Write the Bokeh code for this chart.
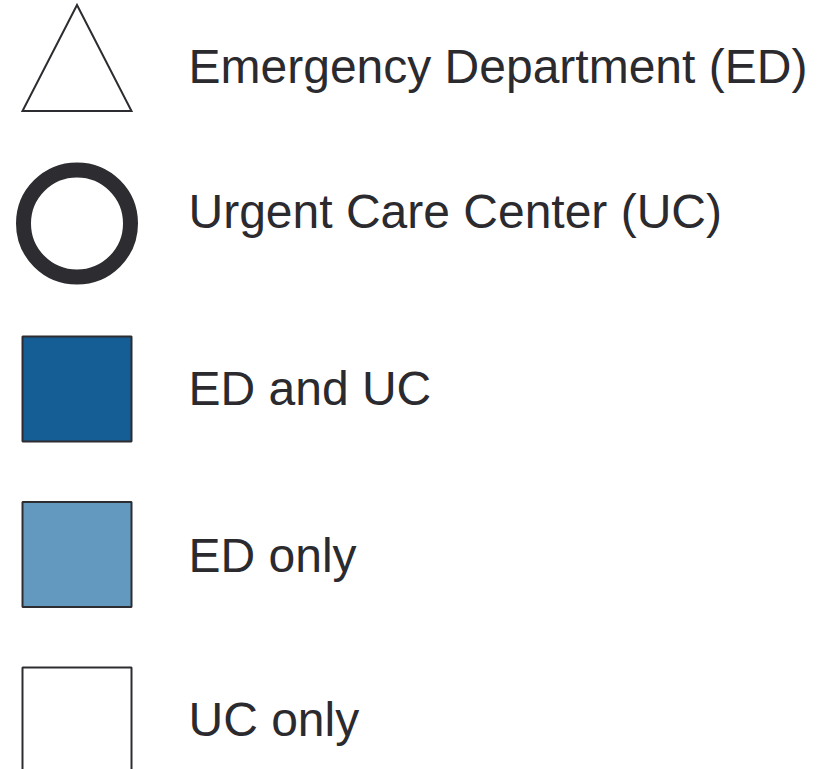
from bokeh.plotting import figure
from bokeh.models import Range1d, ColumnDataSource
from bokeh.core.properties import value
from bokeh.embed import file_html
from bokeh.resources import INLINE

# ---- legend content ----
labels = ["Emergency Department (ED)", "Urgent Care Center (UC)", "ED and UC", "ED only", "UC only"]
rows = [0, 1, 2, 3, 4]
square_rows = [2, 3, 4]
square_fills = ["#155d95", "#6399be", "#ffffff"]
triangle_row = 0
circle_row = 1

# ---- styling / layout ----
INK = "#2d2c30"
TEXT = "#2b2a2e"
ICON_X = 76.5
TEXT_X = 188
ROW_PX = 165.5
TOP_PX = 57.5
label_offsets = [8, -12, -1, 1, -1]   # screen px shift of each label from its row centre

W, H = 838, 769
p = figure(width=W, height=H, output_backend="svg", toolbar_location=None,
           x_range=Range1d(0, W),
           y_range=Range1d((H - TOP_PX) / ROW_PX, (0 - TOP_PX) / ROW_PX),
           min_border=0)
p.axis.visible = False
p.grid.visible = False
p.outline_line_color = None
p.background_fill_color = "white"
p.border_fill_color = "white"

# triangle (ED symbol)
half_w = 54.5
half_h = 53 / ROW_PX
p.patch(x=[ICON_X - half_w, ICON_X + half_w, ICON_X],
        y=[triangle_row + half_h, triangle_row + half_h, triangle_row - half_h],
        fill_color="white", line_color=INK, line_width=2, line_join="miter")

# ring (UC symbol)
p.scatter(x=[ICON_X], y=[circle_row], marker="circle", size=107,
          fill_color="white", line_color=INK, line_width=15)

# coloured squares
sq = ColumnDataSource(dict(x=[ICON_X] * len(square_rows), y=square_rows, fill=square_fills))
p.rect(x="x", y="y", width=109, height=105, width_units="screen", height_units="screen",
       source=sq, fill_color="fill", line_color=INK, line_width=2)

# labels
for r, lab, off in zip(rows, labels, label_offsets):
    p.text(x=[TEXT_X], y=[r], text=[lab], text_font=value("Liberation Sans"),
           text_font_size="48px", text_color=TEXT, text_baseline="alphabetic",
           text_align="left", y_offset=off)

open("out.html", "w").write(file_html(p, INLINE))
